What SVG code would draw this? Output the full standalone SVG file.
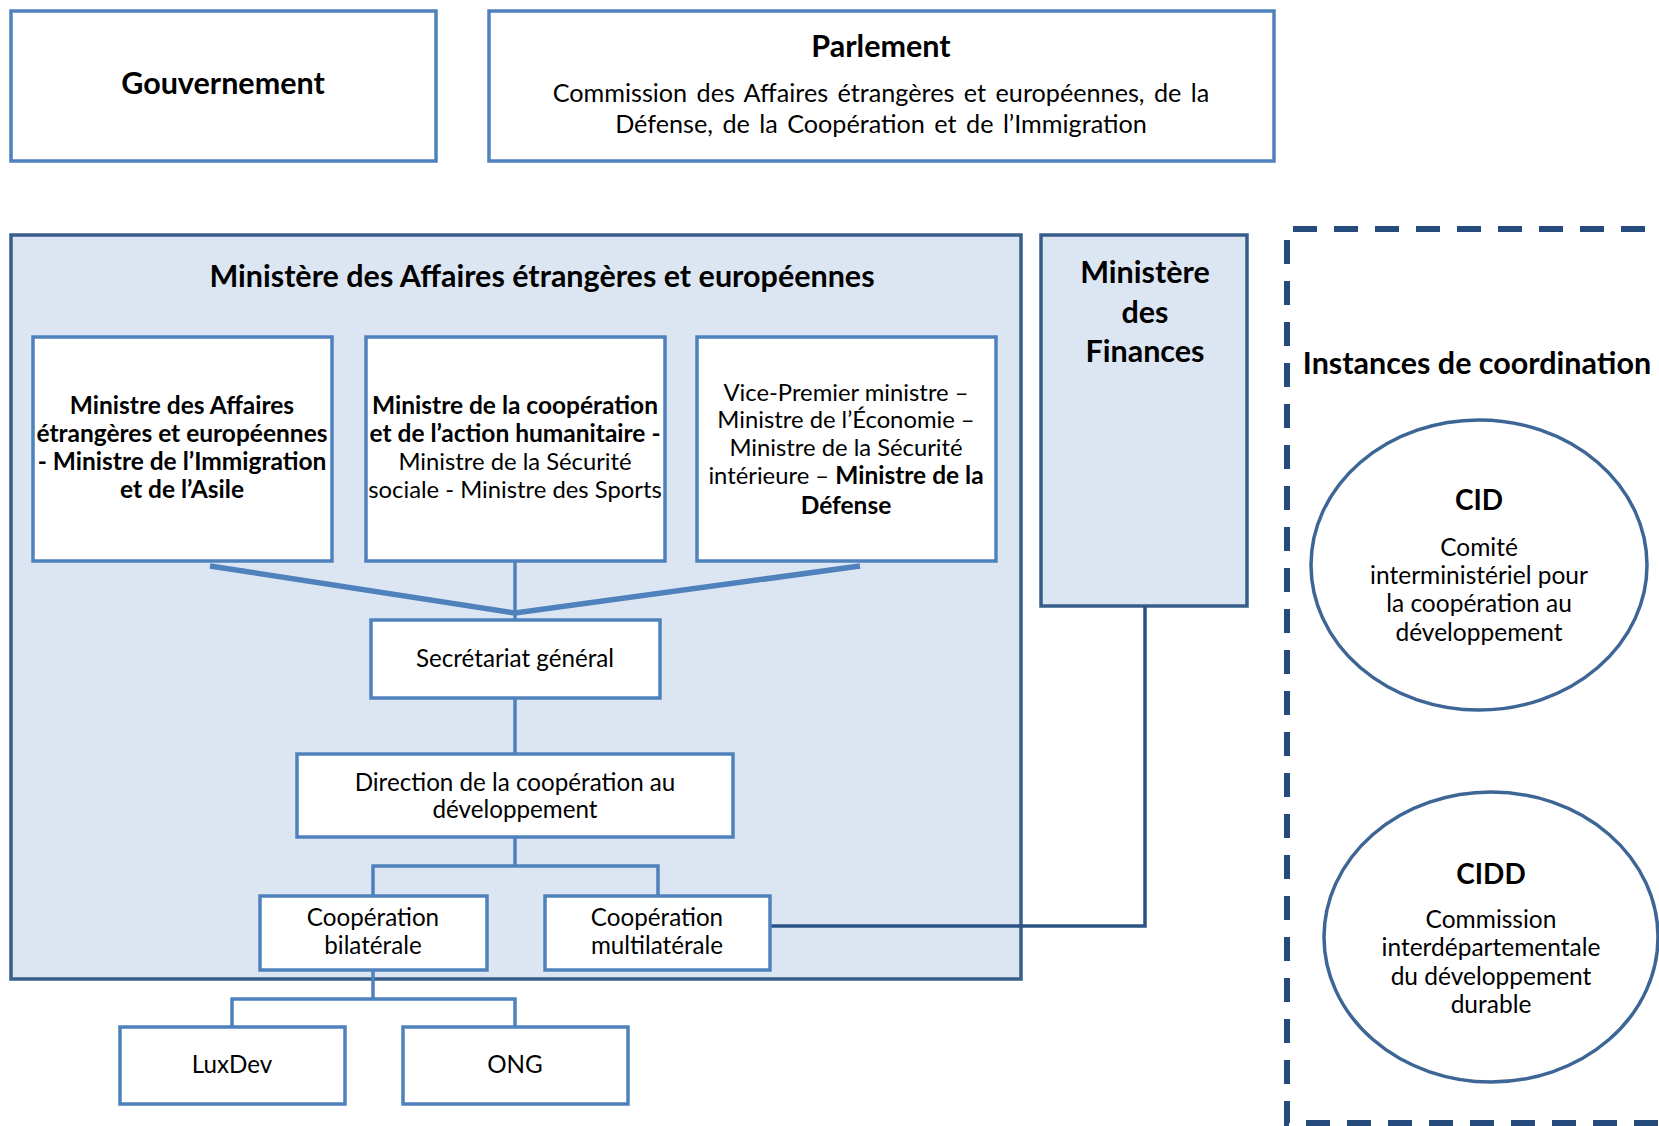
<svg xmlns="http://www.w3.org/2000/svg" width="1659" height="1126" viewBox="0 0 1659 1126">
  <style>
    text { font-family: Lato, "Liberation Sans", sans-serif; fill: #000; text-anchor: middle; }
    .b { font-weight: bold; }
    .box { fill: #fff; stroke: #4f81bd; stroke-width: 3.5; }
    .panel { fill: #dce6f2; stroke: #385d8a; stroke-width: 3.5; }
    .oval { fill: #fff; stroke: #3d6595; stroke-width: 3.5; }
    .dash { fill: none; stroke: #254a7c; stroke-width: 6; stroke-dasharray: 24 17; }
    .h1 { font-size: 30.5px; }
    .h2 { font-size: 28px; }
    .body { font-size: 25.2px; }
    .oval-t { font-size: 24.5px; }
    .min-b { font-size: 24.5px; }
    .min { font-size: 23.8px; }
    .unit { font-size: 24.2px; }
    .link { fill: none; stroke: #4f81bd; stroke-width: 3.5; }
    .fan { fill: none; stroke: #4f81bd; stroke-width: 5.5; }
    .dark { fill: none; stroke: #2b5285; stroke-width: 3.5; }
  </style>

  <!-- top-level institutions -->
  <g id="gouvernement">
    <rect class="box" x="11" y="11" width="425" height="150"/>
    <text class="b h1" x="223" y="94">Gouvernement</text>
  </g>
  <g id="parlement">
    <rect class="box" x="489" y="11" width="785" height="150"/>
    <text class="b h1" x="881" y="57">Parlement</text>
    <text class="body" x="881" y="102" word-spacing="3">Commission des Affaires étrangères et européennes, de la</text>
    <text class="body" x="881" y="133" word-spacing="3">Défense, de la Coopération et de l’Immigration</text>
  </g>

  <!-- ministry panels -->
  <g id="mae">
    <rect class="panel" x="11" y="235" width="1010" height="744"/>
    <text class="b h1" x="542" y="287">Ministère des Affaires étrangères et européennes</text>
  </g>
  <g id="finances">
    <rect class="panel" x="1041" y="235" width="206" height="371"/>
    <text class="b h1" x="1145" y="283">Ministère</text>
    <text class="b h1" x="1145" y="323">des</text>
    <text class="b h1" x="1145" y="362">Finances</text>
  </g>

  <!-- coordination bodies -->
  <g id="coordination">
    <path class="dash" d="M1293 229 H1665 M1287 240 V1123 H1665"/>
    <text class="b h1" x="1477" y="374">Instances de coordination</text>
  </g>
  <g id="cid">
    <ellipse class="oval" cx="1479" cy="565" rx="168" ry="145"/>
    <text class="b h2" x="1479" y="510">CID</text>
    <text class="oval-t" x="1479" y="556">Comité</text>
    <text class="oval-t" x="1479" y="584">interministériel pour</text>
    <text class="oval-t" x="1479" y="612">la coopération au</text>
    <text class="oval-t" x="1479" y="641">développement</text>
  </g>
  <g id="cidd">
    <ellipse class="oval" cx="1491" cy="937" rx="167" ry="145"/>
    <text class="b h2" x="1491" y="884">CIDD</text>
    <text class="oval-t" x="1491" y="928">Commission</text>
    <text class="oval-t" x="1491" y="956">interdépartementale</text>
    <text class="oval-t" x="1491" y="985">du développement</text>
    <text class="oval-t" x="1491" y="1013">durable</text>
  </g>

  <!-- connectors -->
  <g id="connectors">
    <path class="fan" d="M210 566 L515 613 L860 566"/>
    <path class="link" d="M515 561 V620 M515 698 V754 M515 837 V866 M373 896 V866 H658 V896 M373 970 V999 M232 1027 V999 H515 V1027"/>
    <path class="dark" d="M770 926 H1145 V606"/>
  </g>

  <!-- ministers -->
  <g id="ministre-mae">
    <rect class="box" x="33" y="337" width="299" height="224"/>
    <text class="b min-b" x="182" y="414">Ministre des Affaires</text>
    <text class="b min-b" x="182" y="442">étrangères et européennes</text>
    <text class="b min-b" x="182" y="470">- Ministre de l’Immigration</text>
    <text class="b min-b" x="182" y="498">et de l’Asile</text>
  </g>
  <g id="ministre-cooperation">
    <rect class="box" x="366" y="337" width="299" height="224"/>
    <text class="b min-b" x="515" y="414">Ministre de la coopération</text>
    <text class="b min-b" x="515" y="442">et de l’action humanitaire -</text>
    <text class="min" x="515" y="470">Ministre de la Sécurité</text>
    <text class="min" x="515" y="498">sociale - Ministre des Sports</text>
  </g>
  <g id="vice-premier">
    <rect class="box" x="697" y="337" width="299" height="224"/>
    <text class="min" x="846" y="401">Vice-Premier ministre –</text>
    <text class="min" x="846" y="428">Ministre de l’Économie –</text>
    <text class="min" x="846" y="456">Ministre de la Sécurité</text>
    <text class="min" x="846" y="484">intérieure – <tspan class="b min-b">Ministre de la</tspan></text>
    <text class="b min-b" x="846" y="514">Défense</text>
  </g>

  <!-- administration -->
  <g id="secretariat">
    <rect class="box" x="371" y="620" width="289" height="78"/>
    <text class="unit" x="515" y="667">Secrétariat général</text>
  </g>
  <g id="direction">
    <rect class="box" x="297" y="754" width="436" height="83"/>
    <text class="unit" x="515" y="791">Direction de la coopération au</text>
    <text class="unit" x="515" y="818">développement</text>
  </g>
  <g id="bilaterale">
    <rect class="box" x="260" y="896" width="227" height="74"/>
    <text class="unit" x="373" y="926">Coopération</text>
    <text class="unit" x="373" y="954">bilatérale</text>
  </g>
  <g id="multilaterale">
    <rect class="box" x="545" y="896" width="225" height="74"/>
    <text class="unit" x="657" y="926">Coopération</text>
    <text class="unit" x="657" y="954">multilatérale</text>
  </g>
  <g id="luxdev">
    <rect class="box" x="120" y="1027" width="225" height="77"/>
    <text class="unit" x="232" y="1073">LuxDev</text>
  </g>
  <g id="ong">
    <rect class="box" x="403" y="1027" width="225" height="77"/>
    <text class="unit" x="515" y="1073">ONG</text>
  </g>
</svg>
